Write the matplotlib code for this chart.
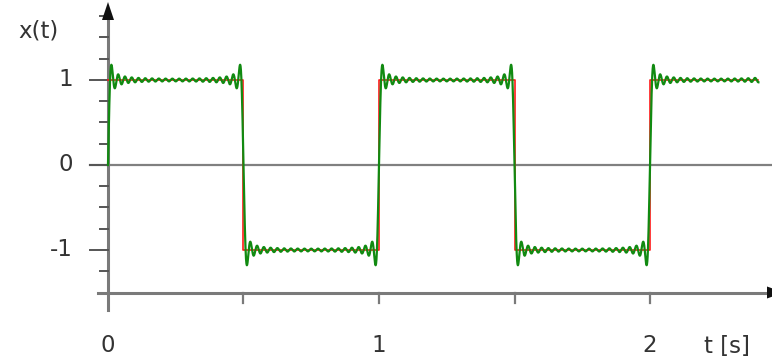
import numpy as np
import matplotlib
matplotlib.use("Agg")
import matplotlib.pyplot as plt
from matplotlib.patches import Polygon

# ---- data ----
# square wave: switching times and levels
edges = [0.0, 0.5, 1.0, 1.5, 2.0, 2.4]
levels = [1, -1, 1, -1, 1]
# Fourier partial sum: odd harmonics (Hz) and their amplitudes
harmonics = [1, 3, 5, 7, 9, 11, 13, 15, 17, 19, 21, 23, 25, 27, 29, 31, 33, 35, 37, 39]
amplitudes = [1.27324, 0.42441, 0.25465, 0.18189, 0.14147, 0.11575, 0.09794,
              0.08488, 0.07490, 0.06701, 0.06063, 0.05536, 0.05093, 0.04716,
              0.04391, 0.04107, 0.03858, 0.03638, 0.03441, 0.03265]
xtick_vals = [0.5, 1.0, 1.5, 2.0]
xtick_labels = [(0, "0"), (1, "1"), (2, "2")]
ytick_major = [-1, 0, 1]
ytick_minor = [-1.25, -0.75, -0.5, -0.25, 0.25, 0.5, 0.75, 1.25, 1.5, 1.75]

# ---- layout (pixel mapping) ----
W, H = 772, 363
X0, SX = 108, 271.0   # pixel of t=0, pixels per second
Y0, SY = 165, 85.0    # pixel of x=0, pixels per unit

def px_t(p):
    return (p - X0) / SX

def px_y(p):
    return (Y0 - p) / SY

fig = plt.figure(figsize=(W / 100, H / 100), dpi=100)
ax = fig.add_axes([0, 0, 1, 1])
ax.set_xlim(px_t(0), px_t(W))
ax.set_ylim(px_y(H), px_y(0))
ax.axis("off")

axis_col = "#7a7a7a"
tick_col = "#555555"
text_col = "#333333"

# zero line
ax.plot([px_t(90), px_t(W)], [0, 0], color="#808080", lw=1.6, zorder=1)

# x axis
yax = -1.5
ax.plot([px_t(98), px_t(W)], [yax, yax], color=axis_col, lw=2.2, zorder=2)
for xv in xtick_vals:
    ax.plot([xv, xv], [yax, yax - 10 / SY], color=axis_col, lw=1.6, zorder=2)
ax.add_patch(Polygon([[px_t(767), yax + 6 / SY], [px_t(767), yax - 6 / SY],
                      [px_t(784), yax]], closed=True, color="#111111", lw=0, zorder=3))

# y axis
ax.plot([0, 0], [px_y(310), px_y(18)], color=axis_col, lw=2.2, zorder=2)
for yv in ytick_major:
    ax.plot([px_t(90), 0], [yv, yv], color=tick_col, lw=1.4, zorder=2)
for yv in ytick_minor:
    ax.plot([px_t(100), 0], [yv, yv], color=tick_col, lw=1.4, zorder=2)
ax.add_patch(Polygon([[px_t(102), px_y(20)], [px_t(114), px_y(20)],
                      [0, px_y(2)]], closed=True, color="#111111", lw=0, zorder=3))

# square wave (red)
sq_t = []
sq_v = []
for i, lv in enumerate(levels):
    sq_t += [edges[i], edges[i + 1]]
    sq_v += [lv, lv]
ax.plot(sq_t, sq_v, color="#ff1a1a", lw=1.2, zorder=4)

# Fourier approximation (green)
t = np.linspace(edges[0], edges[-1], 6000)
x = np.zeros_like(t)
for n, a in zip(harmonics, amplitudes):
    x += a * np.sin(2 * np.pi * n * t)
ax.plot(t, x, color="#118a11", lw=1.6, zorder=5)

# labels
fs = 16.5
for yv in ytick_major:
    ax.text(px_t(73), yv, str(yv), ha="right", va="center", fontsize=fs,
            color=text_col, family="DejaVu Sans")
for xv, lab in xtick_labels:
    ax.text(xv, px_y(346), lab, ha="center", va="center", fontsize=fs,
            color=text_col, family="DejaVu Sans")
ax.text(px_t(727), px_y(346), "t [s]", ha="center", va="center", fontsize=fs,
        color=text_col, family="DejaVu Sans")
ax.text(px_t(38), px_y(31), "x(t)", ha="center", va="center", fontsize=fs,
        color=text_col, family="DejaVu Sans")

fig.savefig("out.png", dpi=100)
